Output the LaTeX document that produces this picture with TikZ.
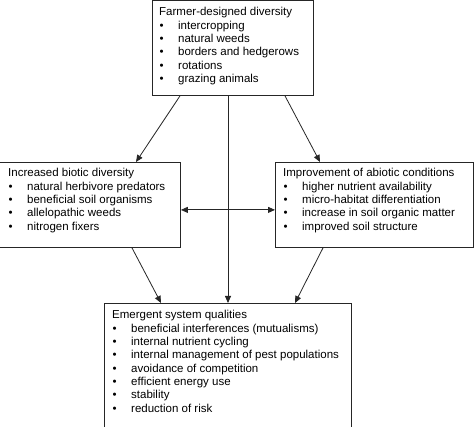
\documentclass[tikz,border=0pt]{standalone}
\usepackage{fontspec}
\setmainfont{Liberation Sans}
\usetikzlibrary{arrows.meta,calc}
\newcommand{\bul}[1]{\makebox[19pt][l]{\hspace{0.5pt}•}#1}
\newcommand{\blist}[1]{\fontsize{11.5}{13.3}\selectfont\begin{tabular}[t]{@{}l@{}}#1\end{tabular}}
\tikzset{
  box/.style={draw=black!85, line width=0.9pt, rectangle, inner sep=0pt, anchor=north west},
  txt/.style={anchor=base west, inner sep=0pt},
  conn/.style={draw=black!85, line width=0.8pt, -{Triangle[length=7pt,width=6pt]}},
  dconn/.style={draw=black!85, line width=0.8pt, {Triangle[length=7pt,width=6pt]}-{Triangle[length=7pt,width=6pt]}}
}
\begin{document}
\begin{tikzpicture}[x=1pt,y=-1pt]
\clip (0,0) rectangle (474,427);
\fill[white] (0,0) rectangle (474,427);
% boxes
\node[box, minimum width=160.5pt, minimum height=94.5pt] (top) at (152,0.5) {};
\node[box, minimum width=181pt, minimum height=85pt] (left) at (-1,162) {};
\node[box, minimum width=197.5pt, minimum height=85pt] (right) at (275,162) {};
\node[box, minimum width=246.5pt, minimum height=129pt] (bot) at (104,303) {};
% texts
\node[txt] (ttop) at (159,16) {\blist{Farmer-designed diversity\\
\bul{intercropping}\\
\bul{natural weeds}\\
\bul{borders and hedgerows}\\
\bul{rotations}\\
\bul{grazing animals}}};
\node[txt] (tleft) at (8,177) {\blist{Increased biotic diversity\\
\bul{natural herbivore predators}\\
\bul{beneficial soil organisms}\\
\bul{allelopathic weeds}\\
\bul{nitrogen fixers}}};
\node[txt] (tright) at (283,177) {\blist{Improvement of abiotic conditions\\
\bul{higher nutrient availability}\\
\bul{micro-habitat differentiation}\\
\bul{increase in soil organic matter}\\
\bul{improved soil structure}}};
\node[txt] (tbot) at (112,319) {\blist{Emergent system qualities\\
\bul{beneficial interferences (mutualisms)}\\
\bul{internal nutrient cycling}\\
\bul{internal management of pest populations}\\
\bul{avoidance of competition}\\
\bul{efficient energy use}\\
\bul{stability}\\
\bul{reduction of risk}}};
% connectors
\draw[conn] ($(top.south west)+(28,0)$) -- ($(left.north west)+(137,0)$);
\draw[conn] ($(top.south west)+(133,0)$) -- ($(right.north west)+(45,0)$);
\draw[conn] ($(top.south west)+(76,0)$) -- ($(bot.north west)+(124,0)$);
\draw[dconn] ($(left.south east)+(0,-38)$) -- ($(right.south west)+(0,-38)$);
\draw[conn] ($(left.south west)+(133,0)$) -- ($(bot.north west)+(57,0)$);
\draw[conn] ($(right.south west)+(48,0)$) -- ($(bot.north west)+(191,0)$);
\end{tikzpicture}
\end{document}
